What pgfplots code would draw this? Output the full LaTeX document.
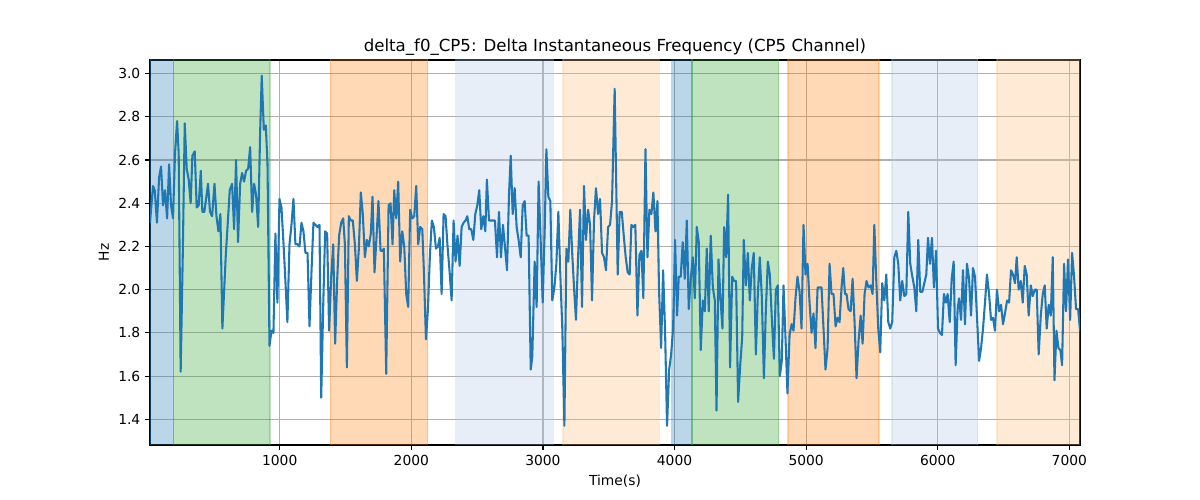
\documentclass[border=0pt]{standalone}
\usepackage{pgfplots}
\pgfplotsset{compat=1.18}
\usepackage{fontspec}
\setmainfont{DejaVu Sans}
\definecolor{cA}{HTML}{1F77B4}
\definecolor{cB}{HTML}{FF7F0E}
\definecolor{cC}{HTML}{2CA02C}
\definecolor{cD}{HTML}{AEC7E8}
\definecolor{cE}{HTML}{FFBB78}
\definecolor{gridc}{HTML}{B0B0B0}
\begin{document}
\begin{tikzpicture}
\path[use as bounding box] (-1.5in,-0.55in) rectangle (10.5in,4.45in);
\begin{axis}[
  at={(0,0)}, anchor=south west,
  scale only axis, width=9.3in, height=3.85in,
  xmin=14, xmax=7081, ymin=1.281, ymax=3.063,
  xtick={1000,2000,3000,4000,5000,6000,7000},
  ytick={1.4,1.6,1.8,2.0,2.2,2.4,2.6,2.8,3.0},
  /pgf/number format/assume math mode=true,
  xticklabel style={/pgf/number format/1000 sep={}},
  yticklabel style={/pgf/number format/fixed, /pgf/number format/fixed zerofill, /pgf/number format/precision=1},
  tick label style={font=\fontsize{10}{12}\selectfont},
  label style={font=\fontsize{10}{12}\selectfont},
  tick align=outside, tick pos=left,
  major tick length=3.5pt,
  every tick/.style={black, line width=0.8pt},
  grid=major,
  major grid style={gridc, line width=0.8pt},
  axis line style={black, line width=0.8pt},
  title={delta\_f0\_CP5: Delta Instantaneous Frequency (CP5 Channel)},
  title style={font=\fontsize{12}{14}\selectfont, at={(axis description cs:0.5,1)}, anchor=base, inner sep=0pt, yshift=0pt},
  xlabel={Time(s)},
  ylabel={Hz},
]
\addplot[fill=cA, draw=cA, opacity=0.3, line width=1pt] coordinates {(14,1.0) (194,1.0) (194,3.5) (14,3.5)} -- cycle;
\addplot[fill=cC, draw=cC, opacity=0.3, line width=1pt] coordinates {(194,1.0) (927,1.0) (927,3.5) (194,3.5)} -- cycle;
\addplot[fill=cB, draw=cB, opacity=0.3, line width=1pt] coordinates {(1385,1.0) (2123,1.0) (2123,3.5) (1385,3.5)} -- cycle;
\addplot[fill=cD, draw=cD, opacity=0.3, line width=1pt] coordinates {(2336,1.0) (3079,1.0) (3079,3.5) (2336,3.5)} -- cycle;
\addplot[fill=cE, draw=cE, opacity=0.3, line width=1pt] coordinates {(3152,1.0) (3885,1.0) (3885,3.5) (3152,3.5)} -- cycle;
\addplot[fill=cA, draw=cA, opacity=0.3, line width=1pt] coordinates {(3979,1.0) (4133,1.0) (4133,3.5) (3979,3.5)} -- cycle;
\addplot[fill=cC, draw=cC, opacity=0.3, line width=1pt] coordinates {(4133,1.0) (4790,1.0) (4790,3.5) (4133,3.5)} -- cycle;
\addplot[fill=cB, draw=cB, opacity=0.3, line width=1pt] coordinates {(4861,1.0) (5553,1.0) (5553,3.5) (4861,3.5)} -- cycle;
\addplot[fill=cD, draw=cD, opacity=0.3, line width=1pt] coordinates {(5652,1.0) (6303,1.0) (6303,3.5) (5652,3.5)} -- cycle;
\addplot[fill=cE, draw=cE, opacity=0.3, line width=1pt] coordinates {(6450,1.0) (7150,1.0) (7150,3.5) (6450,3.5)} -- cycle;
\addplot[cA, line width=1.5pt, line join=round] table[row sep=\\] {
t v\\
14 2.31\\ 37 2.48\\ 50 2.46\\ 67 2.31\\ 83 2.52\\ 98 2.57\\ 113 2.39\\ 128 2.46\\ 144 2.33\\ 159 2.58\\
174 2.39\\ 189 2.33\\ 204 2.63\\ 220 2.78\\ 232 2.63\\ 247 1.62\\ 263 2.16\\ 278 2.77\\ 293 2.56\\ 308 2.51\\
323 2.40\\ 336 2.62\\ 354 2.64\\ 369 2.38\\ 384 2.39\\ 400 2.55\\ 412 2.36\\ 427 2.36\\ 440 2.42\\ 455 2.49\\
470 2.36\\ 486 2.34\\ 504 2.49\\ 519 2.34\\ 534 2.27\\ 549 2.35\\ 564 1.82\\ 590 2.16\\ 620 2.46\\ 638 2.49\\
653 2.28\\ 668 2.60\\ 683 2.22\\ 699 2.49\\ 714 2.54\\ 729 2.50\\ 744 2.55\\ 760 2.56\\ 775 2.66\\ 790 2.36\\
805 2.49\\ 820 2.44\\ 836 2.29\\ 851 2.73\\ 863 2.99\\ 879 2.74\\ 894 2.76\\ 907 2.58\\ 922 1.74\\ 937 1.81\\
952 1.80\\ 967 2.26\\ 982 1.94\\ 998 2.42\\ 1013 2.38\\ 1028 2.22\\ 1043 2.04\\ 1058 1.85\\ 1074 2.21\\ 1089 2.30\\
1104 2.42\\ 1119 2.21\\ 1135 2.21\\ 1150 2.20\\ 1165 2.31\\ 1180 2.27\\ 1195 2.17\\ 1211 2.17\\ 1226 1.83\\ 1241 2.08\\
1256 2.31\\ 1271 2.30\\ 1287 2.29\\ 1302 2.30\\ 1315 1.50\\ 1330 1.92\\ 1345 2.27\\ 1360 2.26\\ 1375 1.81\\ 1391 2.06\\
1406 2.21\\ 1421 1.75\\ 1436 2.04\\ 1451 2.25\\ 1467 2.31\\ 1482 2.33\\ 1495 2.21\\ 1510 1.64\\ 1525 2.34\\ 1540 2.32\\
1555 2.32\\ 1571 2.21\\ 1586 2.04\\ 1601 2.19\\ 1616 2.45\\ 1631 2.35\\ 1647 2.15\\ 1662 2.23\\ 1677 2.20\\ 1692 2.26\\
1705 2.43\\ 1720 2.08\\ 1735 2.24\\ 1750 2.41\\ 1766 2.18\\ 1781 2.18\\ 1791 2.19\\ 1809 1.61\\ 1827 2.39\\ 1842 2.40\\
1857 2.21\\ 1870 2.46\\ 1885 2.33\\ 1900 2.50\\ 1915 2.13\\ 1931 2.27\\ 1946 2.20\\ 1961 1.98\\ 1976 1.92\\ 1991 2.37\\
2007 2.33\\ 2022 2.34\\ 2037 2.48\\ 2052 2.21\\ 2067 2.29\\ 2083 2.28\\ 2095 2.09\\ 2111 1.77\\ 2126 1.91\\ 2141 2.16\\
2156 2.32\\ 2171 2.29\\ 2187 2.19\\ 2202 2.20\\ 2215 2.24\\ 2230 1.98\\ 2245 2.35\\ 2260 2.34\\ 2275 2.20\\ 2291 2.08\\
2306 1.95\\ 2321 2.32\\ 2336 2.13\\ 2351 2.25\\ 2367 2.11\\ 2382 2.29\\ 2397 2.31\\ 2412 2.32\\ 2425 2.34\\ 2440 2.28\\
2455 2.28\\ 2471 2.23\\ 2486 2.35\\ 2501 2.39\\ 2516 2.46\\ 2531 2.28\\ 2547 2.34\\ 2562 2.27\\ 2574 2.51\\ 2590 2.32\\
2605 2.32\\ 2620 2.32\\ 2635 2.32\\ 2651 2.15\\ 2666 2.36\\ 2681 2.15\\ 2696 2.30\\ 2711 2.20\\ 2727 2.09\\ 2742 2.44\\
2755 2.62\\ 2770 2.35\\ 2785 2.47\\ 2800 2.29\\ 2815 2.23\\ 2831 2.15\\ 2846 2.39\\ 2861 2.41\\ 2876 2.25\\ 2891 2.25\\
2907 1.63\\ 2919 1.69\\ 2937 2.13\\ 2952 1.92\\ 2967 2.50\\ 2983 2.22\\ 2998 1.94\\ 3013 2.27\\ 3026 2.65\\ 3041 2.43\\
3056 2.41\\ 3071 1.95\\ 3087 2.01\\ 3102 2.12\\ 3117 2.36\\ 3132 2.07\\ 3147 1.82\\ 3163 1.37\\ 3178 2.19\\ 3193 2.13\\
3208 2.37\\ 3223 2.16\\ 3239 1.98\\ 3251 1.86\\ 3267 2.15\\ 3282 2.37\\ 3297 1.92\\ 3312 2.48\\ 3327 2.23\\ 3343 2.37\\
3358 2.30\\ 3373 1.95\\ 3388 2.32\\ 3403 2.47\\ 3419 2.35\\ 3434 2.42\\ 3449 2.17\\ 3464 2.15\\ 3479 2.09\\ 3495 2.29\\
3510 2.30\\ 3525 2.41\\ 3545 2.93\\ 3568 2.07\\ 3583 2.36\\ 3599 2.36\\ 3614 2.25\\ 3629 2.15\\ 3644 2.08\\ 3659 2.07\\
3672 2.30\\ 3687 2.29\\ 3702 2.30\\ 3718 1.88\\ 3733 2.16\\ 3748 2.18\\ 3763 1.96\\ 3779 2.65\\ 3794 2.15\\ 3809 2.37\\
3824 2.35\\ 3839 2.45\\ 3855 2.27\\ 3870 2.41\\ 3882 2.00\\ 3898 1.73\\ 3913 2.09\\ 3928 1.81\\ 3943 1.37\\ 3959 1.63\\
3974 1.70\\ 3989 1.82\\ 4004 2.23\\ 4019 1.88\\ 4032 2.06\\ 4047 2.06\\ 4062 2.22\\ 4078 2.05\\ 4093 2.32\\ 4108 1.91\\
4123 2.05\\ 4139 2.15\\ 4154 1.96\\ 4169 2.29\\ 4184 2.22\\ 4199 1.72\\ 4215 1.95\\ 4230 1.90\\ 4245 2.19\\ 4260 1.90\\
4275 2.25\\ 4291 2.01\\ 4306 1.95\\ 4319 1.44\\ 4334 2.14\\ 4349 1.96\\ 4364 1.82\\ 4377 2.29\\ 4392 2.15\\ 4407 2.44\\
4422 1.64\\ 4438 2.06\\ 4453 2.04\\ 4468 2.04\\ 4483 1.48\\ 4499 1.65\\ 4514 1.78\\ 4526 2.23\\ 4542 2.02\\ 4557 2.17\\
4572 1.95\\ 4587 2.10\\ 4602 2.17\\ 4618 1.70\\ 4633 1.98\\ 4648 2.15\\ 4663 1.97\\ 4679 1.59\\ 4694 1.91\\ 4709 2.13\\
4724 2.07\\ 4739 1.87\\ 4755 1.68\\ 4770 2.00\\ 4785 2.02\\ 4800 1.60\\ 4815 1.67\\ 4828 2.02\\ 4843 1.78\\ 4858 1.52\\
4874 1.79\\ 4889 1.84\\ 4904 1.81\\ 4919 1.96\\ 4934 2.06\\ 4950 1.99\\ 4965 1.82\\ 4980 2.30\\ 4995 2.07\\ 5011 2.12\\
5026 1.94\\ 5041 1.80\\ 5056 1.89\\ 5071 1.73\\ 5087 2.01\\ 5102 2.01\\ 5117 2.01\\ 5132 1.82\\ 5147 1.63\\ 5163 1.73\\
5178 2.12\\ 5193 1.98\\ 5208 1.98\\ 5224 1.83\\ 5239 1.87\\ 5254 1.85\\ 5269 2.01\\ 5282 2.10\\ 5295 1.98\\ 5307 1.98\\
5322 1.91\\ 5338 1.90\\ 5353 2.05\\ 5368 1.85\\ 5383 1.59\\ 5398 1.76\\ 5414 1.88\\ 5429 1.75\\ 5444 1.98\\ 5459 2.04\\
5474 2.01\\ 5490 2.02\\ 5505 1.98\\ 5518 2.30\\ 5533 2.04\\ 5548 1.82\\ 5563 1.71\\ 5578 2.03\\ 5594 1.95\\ 5609 2.07\\
5624 1.85\\ 5639 1.82\\ 5654 1.85\\ 5670 2.15\\ 5685 2.18\\ 5700 2.12\\ 5715 1.95\\ 5730 2.04\\ 5746 1.97\\ 5761 1.98\\
5776 2.36\\ 5791 2.12\\ 5807 2.06\\ 5822 2.01\\ 5837 1.90\\ 5852 2.23\\ 5867 1.99\\ 5883 1.99\\ 5898 2.03\\ 5913 2.07\\
5926 2.24\\ 5941 2.12\\ 5956 2.24\\ 5971 2.01\\ 5987 2.18\\ 6002 1.82\\ 6017 1.80\\ 6032 1.79\\ 6047 1.98\\ 6063 1.94\\
6075 1.98\\ 6091 1.85\\ 6106 2.05\\ 6121 2.13\\ 6136 1.65\\ 6151 1.91\\ 6162 1.96\\ 6177 1.86\\ 6192 2.09\\ 6207 1.84\\
6222 2.12\\ 6238 2.05\\ 6253 1.88\\ 6268 2.10\\ 6283 2.06\\ 6298 1.88\\ 6314 1.67\\ 6329 1.73\\ 6344 1.82\\ 6359 1.94\\
6374 2.07\\ 6390 1.98\\ 6405 1.86\\ 6420 1.87\\ 6435 1.81\\ 6450 2.00\\ 6466 1.90\\ 6481 1.93\\ 6496 1.84\\ 6511 1.89\\
6527 1.95\\ 6542 1.94\\ 6557 2.09\\ 6572 2.07\\ 6587 2.03\\ 6600 2.15\\ 6615 2.00\\ 6631 2.04\\ 6646 1.94\\ 6661 2.11\\
6676 2.07\\ 6691 1.88\\ 6707 2.02\\ 6722 1.97\\ 6737 2.00\\ 6752 2.00\\ 6767 1.70\\ 6783 1.88\\ 6798 1.98\\ 6813 2.02\\
6828 1.82\\ 6843 1.93\\ 6859 1.88\\ 6874 2.15\\ 6887 1.58\\ 6902 1.81\\ 6917 1.73\\ 6932 1.72\\ 6945 1.65\\ 6960 2.12\\
6975 1.90\\ 6990 2.14\\ 7006 1.86\\ 7021 2.17\\ 7036 2.06\\ 7051 1.91\\ 7067 1.91\\ 7081 1.81\\
};
\end{axis}
\end{tikzpicture}
\end{document}
